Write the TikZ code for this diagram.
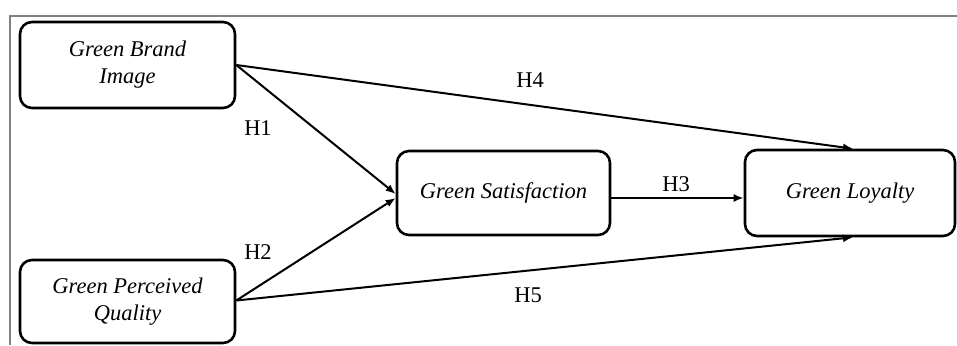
\documentclass[tikz,border=0pt]{standalone}
\usepackage{fontspec}
\setmainfont{Liberation Serif}
\usetikzlibrary{arrows.meta}

\tikzset{
	varbox/.style={draw, line width=2.6pt, rounded corners=12pt, align=center,
		font=\itshape\fontsize{22.5}{27}\selectfont},
	hlabel/.style={font=\fontsize{22.5}{27}\selectfont},
	hyparrow/.style={-{Latex[length=10pt,width=8pt]}, line width=2pt}
}

\begin{document}
\begin{tikzpicture}[x=1pt, y=-1pt]
			\useasboundingbox (0,0) rectangle (957,345);

			% Rahmen
			\draw[gray, line width=1.2pt] (10,345) |- (957,16);

			% Konstrukte
			\node[varbox, minimum width=215pt, minimum height=86pt] (gbi) at (127.5,65) {Green Brand\\Image};
			\node[varbox, minimum width=215pt, minimum height=83pt] (gpq) at (127.5,301.5) {Green Perceived\\Quality};
			\node[varbox, minimum width=213pt, minimum height=84pt] (gs) at (503.5,193) {Green Satisfaction};
			\node[varbox, minimum width=210pt, minimum height=86pt] (gl) at (850,193) {Green Loyalty};

			% Hypothesenpfeile
			\draw[hyparrow] (gbi.east) -- ([yshift=-1pt]gs.west);
			\draw[hyparrow] ([yshift=1pt]gpq.east) -- ([yshift=-5pt]gs.west);
			\draw[hyparrow] ([yshift=-5pt]gs.east) -- ([yshift=-5pt]gl.west);
			\draw[hyparrow] (gbi.east) -- ([xshift=3pt]gl.north);
			\draw[hyparrow] ([yshift=1pt]gpq.east) -- ([xshift=3pt]gl.south);

			% Labels H1 bis H5
			\node[hlabel] (h1) at (258,128) {H1};
			\node[hlabel] (h2) at (258,252) {H2};
			\node[hlabel] (h3) at (676,184) {H3};
			\node[hlabel] (h4) at (530,80) {H4};
			\node[hlabel] (h5) at (528,295) {H5};
		\end{tikzpicture}
\end{document}
